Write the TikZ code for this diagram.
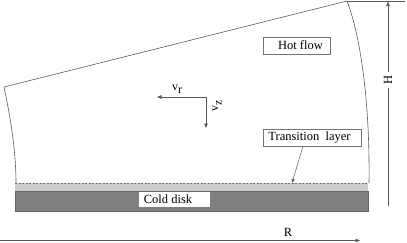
\documentclass[tikz,border=0pt]{standalone}
\usepackage{fontspec}
\setmainfont{Liberation Serif}
\usetikzlibrary{arrows.meta}
\begin{document}
\begin{tikzpicture}[x=1pt,y=1pt,
  ln/.style={draw=black!65, line width=0.6pt},
  arr/.style={ln, -{Triangle[length=4.5pt,width=3.5pt]}},
  lbl/.style={font=\fontsize{12.5}{14}\selectfont, inner sep=0pt},
  sub/.style={font=\fontsize{12}{14}\selectfont, inner sep=0pt},
  box/.style={draw=black!55, line width=0.5pt, fill=white, inner sep=0pt}]
\useasboundingbox (0,0) rectangle (407,-242);
% transition layer and disk
\fill[black!20] (15,-183) rectangle (368,-191);
\draw[black!55, dashed, line width=0.5pt, dash pattern=on 2pt off 1.5pt] (15,-183) -- (368,-183);
\draw[fill=black!50, draw=black!60, line width=0.5pt] (15,-191) rectangle (368,-211);
% wedge
\coordinate (TL) at (4,-87);
\coordinate (TR) at (347,-1);
\coordinate (BL) at (16,-183);
\coordinate (BR) at (369,-183);
\draw[ln] (BL) .. controls (16,-150) and (10,-115) .. (TL) -- (TR) .. controls (362,-40) and (370,-110) .. (BR);
\coordinate (HX) at (405,-1);
\draw[ln] (TR) -- (HX);
% H dimension
\coordinate (Hb) at (388,-206);
\coordinate (Ht) at (388,-1.5);
\draw[arr] (Hb) -- (Ht);
\node[lbl, fill=white, rotate=90, inner sep=3pt] (H) at (388,-80) {H};
% R dimension
\coordinate (Ra) at (0,-240.5);
\coordinate (Rb) at (360,-240.5);
\draw[arr] (Ra) -- (Rb);
\node[lbl] (R) at (288,-232) {R};
% Hot flow
\node[box, minimum width=67pt, minimum height=17pt] (hot) at (296.5,-45.5) {};
\node[lbl] (hott) at (300.5,-45.5) {Hot flow};
% Transition layer
\node[box, minimum width=98pt, minimum height=17pt] (tbox) at (312,-137.5) {};
\node[lbl] (tboxt) at (309.5,-137.5) {Transition\ \ layer};
\coordinate (tl) at (292,-183);
\draw[ln, line width=0.5pt, -{Triangle[length=4pt,width=3pt]}] ([xshift=-9pt]tbox.south) -- (tl);
% Cold disk
\node[fill=white, minimum width=71pt, minimum height=15pt, inner sep=0pt] (cold) at (174.5,-199.5) {};
\node[lbl] (coldt) at (168,-199.5) {Cold disk};
% velocities
\coordinate (O) at (206,-97);
\coordinate (vr) at (157,-97);
\coordinate (vz) at (206,-128);
\draw[arr] (O) -- (vr);
\draw[arr] (O) -- (vz);
\node[sub] (vrl) at (177,-89) {v\raisebox{-3.5pt}{r}};
\node[sub, rotate=90] (vzl) at (217,-106) {v\raisebox{-3.5pt}{z}};
\end{tikzpicture}
\end{document}
